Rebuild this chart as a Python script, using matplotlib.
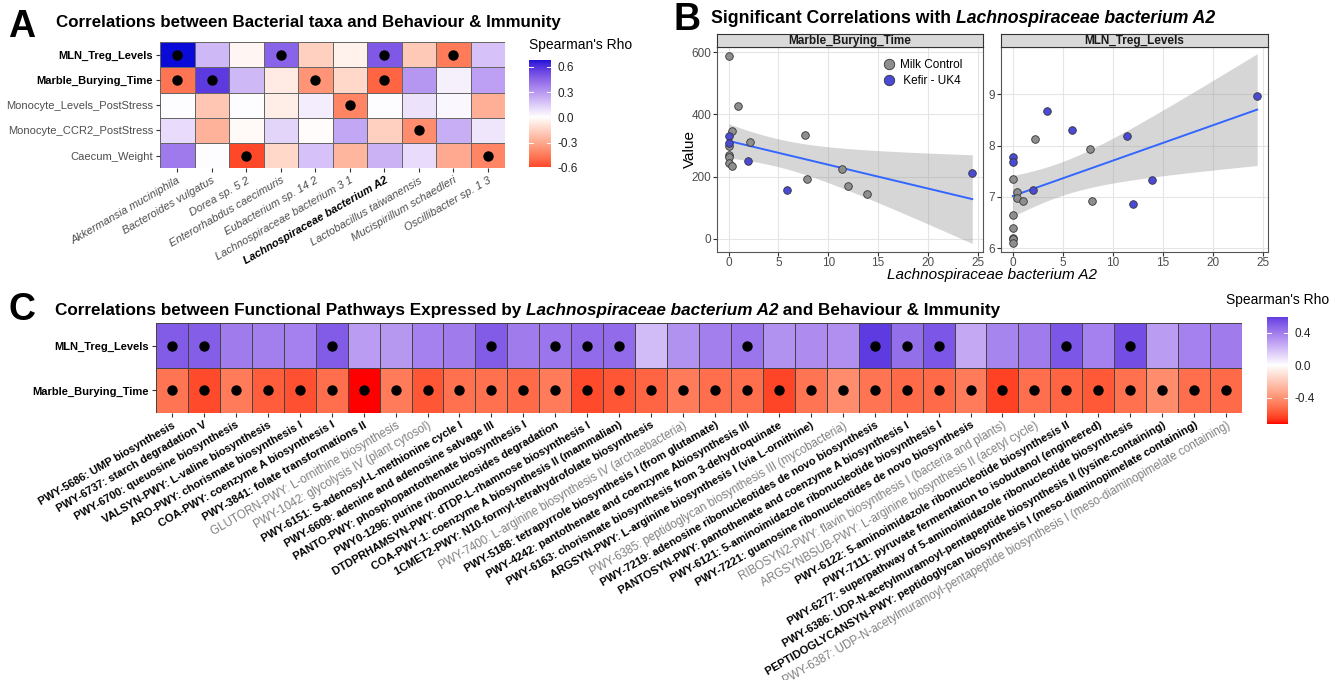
import numpy as np
import matplotlib
matplotlib.use("Agg")
import matplotlib.pyplot as plt
from matplotlib.colors import ListedColormap, Normalize
from matplotlib.lines import Line2D

plt.rcParams['font.family'] = ['Liberation Sans', 'DejaVu Sans']

W, H = 1331, 680

# ---------------- data: panel A ----------------
taxa = ["Akkermansia muciniphila", "Bacteroides vulgatus", "Dorea sp. 5 2",
        "Enterorhabdus caecimuris", "Eubacterium sp. 14 2", "Lachnospiraceae bacterium 3 1",
        "Lachnospiraceae bacterium A2", "Lactobacillus taiwanensis",
        "Mucispirillum schaedleri", "Oscillibacter sp. 1 3"]
a_rows = ["MLN_Treg_Levels", "Marble_Burying_Time", "Monocyte_Levels_PostStress",
          "Monocyte_CCR2_PostStress", "Caecum_Weight"]
a_rho = np.array([
    [0.68, 0.20, -0.03, 0.45, -0.17, -0.05, 0.48, -0.19, -0.45, 0.17],
    [-0.47, 0.57, 0.20, -0.07, -0.37, -0.14, -0.52, 0.30, 0.04, 0.27],
    [0.01, -0.20, 0.01, -0.06, 0.05, -0.42, 0.01, 0.08, 0.02, -0.28],
    [0.10, -0.27, -0.02, 0.12, -0.01, 0.25, -0.17, -0.40, 0.23, 0.07],
    [0.38, 0.01, -0.59, -0.14, 0.17, -0.26, 0.22, 0.10, -0.30, -0.42],
])
a_sig = np.array([
    [1, 0, 0, 1, 0, 0, 1, 0, 1, 0],
    [1, 1, 0, 0, 1, 0, 1, 0, 0, 0],
    [0, 0, 0, 0, 0, 1, 0, 0, 0, 0],
    [0, 0, 0, 0, 0, 0, 0, 1, 0, 0],
    [0, 0, 1, 0, 0, 0, 0, 0, 0, 1],
])
a_bold_rows = [True, True, False, False, False]
a_bold_taxon = "Lachnospiraceae bacterium A2"

# ---------------- data: panel B ----------------
mb_x = [0, 0.97, 0.33, 0, 0, 0, 2.14, 0, 0, 0, 0.33, 1.94, 7.65, 7.9, 5.85, 11.35, 12.0, 13.9, 24.45]
mb_y = [587, 426, 348, 330, 307, 297, 310, 268, 263, 244, 233, 250, 335, 193, 156, 224, 171, 144, 212]
mb_grp = ["M", "M", "M", "K", "K", "M", "M", "M", "M", "M", "M", "K", "M", "M", "K", "M", "M", "M", "K"]

mln_x = [24.45, 3.46, 5.88, 2.25, 11.39, 7.69, 0, 0, 0, 0.4, 0.4, 1.0, 2.02, 7.96, 13.95, 12.03,
         0, 0, 0, 0, 0]
mln_y = [8.97, 8.68, 8.31, 8.12, 8.19, 7.94, 7.77, 7.68, 7.34, 7.10, 6.97, 6.91, 7.14, 6.92, 7.33,
         6.86, 6.65, 6.40, 6.20, 6.17, 6.10]
mln_grp = ["K", "K", "K", "M", "K", "M", "K", "K", "M", "M", "M", "M", "K", "M", "K", "K",
           "M", "M", "M", "M", "M"]

group_names = {"M": "Milk Control", "K": "Kefir - UK4"}
group_cols = {"M": "#8E8E8E", "K": "#4A4AD6"}

# ---------------- data: panel C ----------------
pathways = [
    "PWY-5686: UMP biosynthesis",
    "PWY-6737: starch degradation V",
    "PWY-6700: queuosine biosynthesis",
    "VALSYN-PWY: L-valine biosynthesis",
    "ARO-PWY: chorismate biosynthesis I",
    "COA-PWY: coenzyme A biosynthesis I",
    "PWY-3841: folate transformations II",
    "GLUTORN-PWY: L-ornithine biosynthesis",
    "PWY-1042: glycolysis IV (plant cytosol)",
    "PWY-6151: S-adenosyl-L-methionine cycle I",
    "PWY-6609: adenine and adenosine salvage III",
    "PANTO-PWY: phosphopantothenate biosynthesis I",
    "PWY0-1296: purine ribonucleosides degradation",
    "DTDPRHAMSYN-PWY: dTDP-L-rhamnose biosynthesis I",
    "COA-PWY-1: coenzyme A biosynthesis II (mammalian)",
    "1CMET2-PWY: N10-formyl-tetrahydrofolate biosynthesis",
    "PWY-7400: L-arginine biosynthesis IV (archaebacteria)",
    "PWY-5188: tetrapyrrole biosynthesis I (from glutamate)",
    "PWY-4242: pantothenate and coenzyme Abiosynthesis III",
    "PWY-6163: chorismate biosynthesis from 3-dehydroquinate",
    "ARGSYN-PWY: L-arginine biosynthesis I (via L-ornithine)",
    "PWY-6385: peptidoglycan biosynthesis III (mycobacteria)",
    "PWY-7219: adenosine ribonucleotides de novo biosynthesis",
    "PANTOSYN-PWY: pantothenate and coenzyme A biosynthesis I",
    "PWY-6121: 5-aminoimidazole ribonucleotide biosynthesis I",
    "PWY-7221: guanosine ribonucleotides de novo biosynthesis",
    "RIBOSYN2-PWY: flavin biosynthesis I (bacteria and plants)",
    "ARGSYNBSUB-PWY: L-arginine biosynthesis II (acetyl cycle)",
    "PWY-6122: 5-aminoimidazole ribonucleotide biosynthesis II",
    "PWY-7111: pyruvate fermentation to isobutanol (engineered)",
    "PWY-6277: superpathway of 5-aminoimidazole ribonucleotide biosynthesis",
    "PWY-6386: UDP-N-acetylmuramoyl-pentapeptide biosynthesis II (lysine-containing)",
    "PEPTIDOGLYCANSYN-PWY: peptidoglycan biosynthesis I (meso-diaminopimelate containing)",
    "PWY-6387: UDP-N-acetylmuramoyl-pentapeptide biosynthesis I (meso-diaminopimelate containing)",
]
grey_paths = [8, 9, 17, 22, 27, 28, 34]  # 1-based, labels shown in grey
c_rows = ["MLN_Treg_Levels", "Marble_Burying_Time"]
c_mln = [0.50, 0.49, 0.40, 0.39, 0.38, 0.50, 0.30, 0.31, 0.38, 0.40, 0.50, 0.40, 0.42, 0.45,
         0.45, 0.20, 0.33, 0.39, 0.42, 0.33, 0.35, 0.34, 0.60, 0.44, 0.52, 0.26, 0.37, 0.40,
         0.52, 0.38, 0.54, 0.30, 0.38, 0.40]
c_mbt = [-0.50, -0.62, -0.48, -0.57, -0.60, -0.52, -0.72, -0.48, -0.59, -0.51, -0.51, -0.53,
         -0.48, -0.62, -0.59, -0.55, -0.48, -0.52, -0.52, -0.63, -0.50, -0.42, -0.50, -0.53,
         -0.53, -0.48, -0.64, -0.52, -0.55, -0.58, -0.51, -0.42, -0.52, -0.53]
c_mln_sig = [1, 2, 6, 11, 13, 14, 15, 19, 23, 24, 25, 29, 31]  # 1-based columns with dots


# ---------------- colour scale (gradient2 in Lab) ----------------
M_RGB2XYZ = np.array([[0.4124564, 0.3575761, 0.1804375],
                      [0.2126729, 0.7151522, 0.0721750],
                      [0.0193339, 0.1191920, 0.9503041]])
WHITE = np.array([0.95047, 1.0, 1.08883])


def srgb_to_lab(rgb):
    rgb = np.asarray(rgb, float)
    lin = np.where(rgb <= 0.04045, rgb / 12.92, ((rgb + 0.055) / 1.055) ** 2.4)
    t = (lin @ M_RGB2XYZ.T) / WHITE
    f = np.where(t > (6 / 29) ** 3, np.cbrt(t), t / (3 * (6 / 29) ** 2) + 4 / 29)
    return np.stack([116 * f[..., 1] - 16, 500 * (f[..., 0] - f[..., 1]),
                     200 * (f[..., 1] - f[..., 2])], -1)


def lab_to_srgb(lab):
    fy = (lab[..., 0] + 16) / 116
    f = np.stack([fy + lab[..., 1] / 500, fy, fy - lab[..., 2] / 200], -1)
    t = np.where(f > 6 / 29, f ** 3, 3 * (6 / 29) ** 2 * (f - 4 / 29))
    lin = np.clip((t * WHITE) @ np.linalg.inv(M_RGB2XYZ).T, 0, 1)
    rgb = np.where(lin <= 0.0031308, 12.92 * lin, 1.055 * lin ** (1 / 2.4) - 0.055)
    return np.clip(rgb, 0, 1)


lab_low = srgb_to_lab([1.0, 0.0, 0.0])
lab_mid = srgb_to_lab([1.0, 1.0, 1.0])
lab_high = srgb_to_lab([0.04, 0.04, 0.85])
tt = np.linspace(0, 1, 512)[:, None]
lab = np.where(tt < 0.5, lab_low + (lab_mid - lab_low) * (tt / 0.5),
               lab_mid + (lab_high - lab_mid) * ((tt - 0.5) / 0.5))
cmap = ListedColormap(lab_to_srgb(lab))


def px_rect(l, t, r, b):
    return [l / W, 1 - b / H, (r - l) / W, (b - t) / H]


def colorbar(fig, rect, dmin, dmax, norm, ticks):
    cax = fig.add_axes(rect)
    grad = np.linspace(dmin, dmax, 300)[:, None]
    cax.imshow(grad, aspect='auto', origin='lower', extent=[0, 1, dmin, dmax], cmap=cmap, norm=norm)
    cax.set_xlim(0, 1)
    cax.set_ylim(dmin, dmax)
    cax.set_xticks([])
    for s in cax.spines.values():
        s.set_visible(False)
    cax.yaxis.tick_right()
    cax.set_yticks(ticks)
    cax.set_yticklabels([f"{v:.1f}" for v in ticks], fontsize=8.5, color="#222222")
    cax.tick_params(axis='y', length=0, pad=5)
    for v in ticks:
        cax.plot([0, 0.2], [v, v], color='white', lw=0.7)
        cax.plot([0.8, 1], [v, v], color='white', lw=0.7)
    return cax


def rich_text(fig, x_px, y_px, parts, size, **kw):
    # draw text segments one after another (mixed bold / bold italic)
    r = fig.canvas.get_renderer()
    x = x_px
    for s, style in parts:
        t = fig.text(x / W, 1 - y_px / H, s, fontsize=size, fontstyle=style,
                     va='center', ha='left', **kw)
        x += t.get_window_extent(r).width
    return x


fig = plt.figure(figsize=(W / 100, H / 100), dpi=100)
fig.canvas.draw()

# ---------------- panel A ----------------
normA = Normalize(-np.abs(a_rho).max(), np.abs(a_rho).max())
axA = fig.add_axes(px_rect(160, 42, 505, 168.3))
axA.pcolormesh(np.arange(len(taxa) + 1), np.arange(len(a_rows) + 1), a_rho, cmap=cmap, norm=normA,
               edgecolors='#666666', linewidth=0.5)
rr, cc = np.nonzero(a_sig)
axA.scatter(cc + 0.5, rr + 0.5, s=42, color='black', zorder=3)
axA.set_xlim(0, len(taxa))
axA.set_ylim(len(a_rows), 0)
for s in axA.spines.values():
    s.set_visible(False)
axA.set_xticks(np.arange(len(taxa)) + 0.5)
axA.set_xticklabels(taxa, rotation=30, ha='right', va='top', rotation_mode='anchor',
                    fontstyle='italic', fontsize=8)
for lab_ in axA.get_xticklabels():
    if lab_.get_text() == a_bold_taxon:
        lab_.set_fontweight('bold')
        lab_.set_color('black')
    else:
        lab_.set_color('#4D4D4D')
axA.set_yticks(np.arange(len(a_rows)) + 0.5)
axA.set_yticklabels(a_rows, fontsize=8)
for lab_, b in zip(axA.get_yticklabels(), a_bold_rows):
    lab_.set_fontweight('bold' if b else 'normal')
    lab_.set_color('black' if b else '#4D4D4D')
axA.tick_params(length=3, width=0.8, color='#333333', pad=2)

fig.text(529 / W, 1 - 45.5 / H, "Spearman's Rho", fontsize=10, va='center', ha='left')
colorbar(fig, px_rect(529, 60, 551, 168), a_rho.min(), a_rho.max(), normA, [-0.6, -0.3, 0.0, 0.3, 0.6])

fig.text(8 / W, 1 - 27 / H, "A", fontsize=27, fontweight='bold', va='center', ha='left')
fig.text(56 / W, 1 - 22.5 / H, "Correlations between Bacterial taxa and Behaviour & Immunity",
         fontsize=12.15, fontweight='bold', va='center', ha='left')

# ---------------- panel B ----------------
fig.text(673 / W, 1 - 20 / H, "B", fontsize=27, fontweight='bold', va='center', ha='left')
rich_text(fig, 711, 18.5, [("Significant Correlations with ", 'normal'),
                           ("Lachnospiraceae bacterium A2", 'italic')], 12.7, fontweight='bold')

T975 = {17: 2.110, 19: 2.093}  # t quantiles for the lm confidence band


def facet(rect, strip_rect, title, xs, ys, grps, ylim, yticks):
    ax = fig.add_axes(rect)
    xs = np.asarray(xs, float)
    ys = np.asarray(ys, float)
    n = len(xs)
    b1, b0 = np.polyfit(xs, ys, 1)
    xx = np.linspace(xs.min(), xs.max(), 80)
    fit = b0 + b1 * xx
    resid = ys - (b0 + b1 * xs)
    se_r = np.sqrt(np.sum(resid ** 2) / (n - 2))
    se = se_r * np.sqrt(1 / n + (xx - xs.mean()) ** 2 / np.sum((xs - xs.mean()) ** 2))
    tq = T975[n - 2]
    ax.fill_between(xx, fit - tq * se, fit + tq * se, color='#999999', alpha=0.4, lw=0, zorder=1)
    ax.plot(xx, fit, color='#3366FF', lw=1.4, zorder=2)
    for g in ["M", "K"]:
        idx = [i for i, gg in enumerate(grps) if gg == g]
        ax.scatter(xs[idx], ys[idx], s=30, color=group_cols[g], edgecolor='#333333',
                   linewidth=0.6, zorder=3)
    ax.set_xlim(-1.2, 25.5)
    ax.set_ylim(*ylim)
    ax.set_xticks([0, 5, 10, 15, 20, 25])
    ax.set_yticks(yticks)
    ax.grid(color='#E5E5E5', lw=0.8)
    ax.set_axisbelow(True)
    ax.tick_params(labelsize=8.5, labelcolor='#4D4D4D', length=3, width=0.8, color='#333333', pad=1)
    for s in ax.spines.values():
        s.set_color('#555555')
        s.set_linewidth(0.8)
    st = fig.add_axes(strip_rect)
    st.set_facecolor('#D9D9D9')
    st.set_xticks([])
    st.set_yticks([])
    for s in st.spines.values():
        s.set_color('#333333')
        s.set_linewidth(0.8)
    st.text(0.5, 0.45, title, transform=st.transAxes, ha='center', va='center',
            fontsize=8.5, fontweight='bold', color='#1A1A1A')
    return ax


axB1 = facet(px_rect(716.7, 46.7, 982.7, 251.7), px_rect(716.7, 34, 982.7, 46.7),
             "Marble_Burying_Time", mb_x, mb_y, mb_grp, (-42, 618), [0, 200, 400, 600])
axB2 = facet(px_rect(1000.7, 46.7, 1267.7, 251.7), px_rect(1000.7, 34, 1267.7, 46.7),
             "MLN_Treg_Levels", mln_x, mln_y, mln_grp, (5.93, 9.93), [6, 7, 8, 9])
fig.text(690 / W, 1 - 149 / H, "Value", fontsize=11, rotation=90, ha='center', va='center')
fig.text(992 / W, 1 - 275.5 / H, "Lachnospiraceae bacterium A2", fontsize=11, fontstyle='italic',
         ha='center', va='center')
handles = [Line2D([], [], ls='none', marker='o', markersize=7.5, markerfacecolor=group_cols[g],
                  markeredgecolor='#333333', markeredgewidth=0.6) for g in ["M", "K"]]
axB1.legend(handles, [group_names["M"], " " + group_names["K"]], loc='upper left',
            bbox_to_anchor=(876 / W, 1 - 53 / H), bbox_transform=fig.transFigure, frameon=False,
            fontsize=8.5, handletextpad=0.3, labelspacing=0.35, borderpad=0, handlelength=1.2)

# ---------------- panel C ----------------
c_rho = np.array([c_mln, c_mbt])
c_sig = np.zeros_like(c_rho, dtype=bool)
c_sig[0, np.array(c_mln_sig) - 1] = True
c_sig[1, :] = True
normC = Normalize(-np.abs(c_rho).max(), np.abs(c_rho).max())
axC = fig.add_axes(px_rect(156, 323, 1242, 413))
axC.pcolormesh(np.arange(len(pathways) + 1), np.arange(3), c_rho, cmap=cmap, norm=normC,
               edgecolors='#444444', linewidth=0.5)
rr, cc = np.nonzero(c_sig)
axC.scatter(cc + 0.5, rr + 0.5, s=42, color='black', zorder=3)
axC.set_xlim(0, len(pathways))
axC.set_ylim(2, 0)
for s in axC.spines.values():
    s.set_visible(False)
axC.set_xticks(np.arange(len(pathways)) + 0.5)
axC.set_xticklabels(pathways, rotation=30, ha='right', va='top', rotation_mode='anchor', fontsize=8)
for i, lab_ in enumerate(axC.get_xticklabels(), start=1):
    if i in grey_paths:
        lab_.set_color('#808080')
        lab_.set_fontsize(8.4)
    else:
        lab_.set_fontweight('bold')
        lab_.set_color('black')
axC.set_yticks([0.5, 1.5])
axC.set_yticklabels(c_rows, fontsize=8, fontweight='bold')
axC.tick_params(length=3, width=0.8, color='#333333', pad=2)

fig.text(1226 / W, 1 - 300 / H, "Spearman's Rho", fontsize=10, va='center', ha='left')
colorbar(fig, px_rect(1267, 316.7, 1288, 424), c_rho.min(), c_rho.max(), normC, [-0.4, 0.0, 0.4])

fig.text(8 / W, 1 - 310 / H, "C", fontsize=27, fontweight='bold', va='center', ha='left')
rich_text(fig, 55, 310.5, [("Correlations between Functional Pathways Expressed by ", 'normal'),
                           ("Lachnospiraceae bacterium A2", 'italic'),
                           (" and Behaviour & Immunity", 'normal')], 12.35, fontweight='bold')

fig.savefig("out.png", dpi=100)
